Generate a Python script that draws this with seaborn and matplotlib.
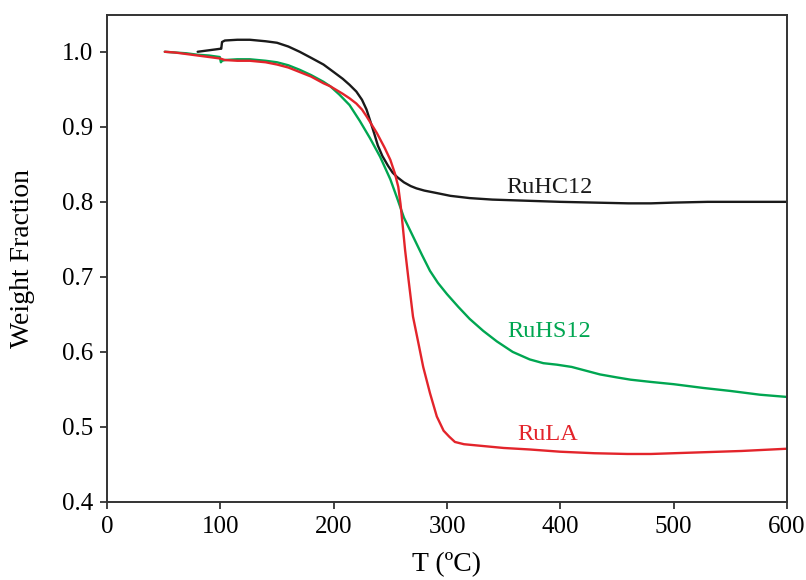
import numpy as np
import pandas as pd
import matplotlib
matplotlib.use("Agg")
import matplotlib.pyplot as plt
import seaborn as sns

# ---- data ----
hc12_T = [80, 90, 100, 100.8, 101.5, 104, 115, 126, 140, 150, 160, 170, 180, 191, 200, 208, 214,
          220, 225, 229, 232, 236, 239, 243, 248, 252, 256, 262, 268, 273, 280, 290, 303, 320,
          340, 360, 380, 400, 430, 460, 480, 500, 530, 560, 600]
hc12_w = [1.000, 1.002, 1.004, 1.004, 1.013, 1.015, 1.016, 1.016, 1.014, 1.012, 1.007, 1.000,
          0.992, 0.983, 0.973, 0.964, 0.956, 0.947, 0.936, 0.923, 0.909, 0.890, 0.875, 0.861,
          0.848, 0.839, 0.833, 0.826, 0.821, 0.818, 0.815, 0.812, 0.808, 0.805, 0.803, 0.802,
          0.801, 0.800, 0.799, 0.798, 0.798, 0.799, 0.800, 0.800, 0.800]

hs12_T = [51, 60, 70, 80, 90, 99.5, 100.5, 101.5, 104, 115, 126, 140, 150, 160, 170, 180, 191,
          197, 205, 214, 223, 232, 241, 250, 256, 262, 270, 278, 285, 292, 300, 310, 320, 332,
          344, 358, 373, 385, 397, 410, 420, 435, 450, 462, 480, 500, 526, 550, 576, 600]
hs12_w = [1.000, 0.999, 0.998, 0.996, 0.995, 0.993, 0.986, 0.988, 0.989, 0.990, 0.990, 0.988,
          0.986, 0.982, 0.976, 0.969, 0.960, 0.954, 0.943, 0.929, 0.908, 0.885, 0.860, 0.830,
          0.805, 0.779, 0.754, 0.729, 0.708, 0.692, 0.677, 0.660, 0.644, 0.628, 0.614, 0.600,
          0.590, 0.585, 0.583, 0.580, 0.576, 0.570, 0.566, 0.563, 0.560, 0.557, 0.552, 0.548,
          0.543, 0.540]

la_T = [51, 60, 70, 80, 90, 100, 104, 115, 126, 140, 150, 160, 170, 180, 191, 197, 208, 214,
        220, 225, 229, 238, 245, 250, 254, 257, 259, 261, 263, 266, 270, 275, 279, 285, 291,
        297, 302, 307, 315, 329, 350, 373, 400, 430, 459, 480, 520, 560, 600]
la_w = [1.000, 0.999, 0.997, 0.995, 0.993, 0.991, 0.989, 0.988, 0.988, 0.986, 0.983, 0.979,
        0.973, 0.967, 0.958, 0.954, 0.944, 0.938, 0.931, 0.923, 0.914, 0.892, 0.872, 0.856,
        0.838, 0.820, 0.797, 0.767, 0.736, 0.697, 0.647, 0.610, 0.580, 0.545, 0.514, 0.495,
        0.487, 0.480, 0.477, 0.475, 0.472, 0.470, 0.467, 0.465, 0.464, 0.464, 0.466, 0.468,
        0.471]

series_names = ["RuHC12", "RuHS12", "RuLA"]
series_colors = ["#1a1a1a", "#00a651", "#e3242b"]
label_pos = [(352, 0.812), (353, 0.620), (362, 0.4827)]

x_ticks = [0, 100, 200, 300, 400, 500, 600]
y_ticks = [0.4, 0.5, 0.6, 0.7, 0.8, 0.9, 1.0]

df = pd.concat([
    pd.DataFrame({"T": hc12_T, "w": hc12_w, "s": "RuHC12"}),
    pd.DataFrame({"T": hs12_T, "w": hs12_w, "s": "RuHS12"}),
    pd.DataFrame({"T": la_T, "w": la_w, "s": "RuLA"}),
], ignore_index=True)

sns.set_style("ticks")
plt.rcParams["font.family"] = ["Liberation Serif", "DejaVu Serif"]

fig = plt.figure(figsize=(8.06, 5.80), dpi=100)
ax = fig.add_axes([107 / 806, 78 / 580, 680 / 806, 487 / 580])

sns.lineplot(data=df, x="T", y="w", hue="s", hue_order=series_names,
             palette=dict(zip(series_names, series_colors)), sort=False,
             linewidth=1.7, legend=False, ax=ax, estimator=None)

for name, col, (tx, ty) in zip(series_names, series_colors, label_pos):
    ax.text(tx, ty, name, color=col, fontsize=17.5, va="baseline", ha="left")

ax.set_xlim(0, 600)
ax.set_ylim(0.4, 1.049)
ax.set_xticks(x_ticks)
ax.set_yticks(y_ticks)
ax.set_xticklabels([str(v) for v in x_ticks])
ax.set_yticklabels([f"{v:.1f}" for v in y_ticks])
ax.tick_params(axis="both", direction="out", length=5, width=1.2, labelsize=18,
               pad=5, colors="#222222", labelcolor="black")
for sp in ax.spines.values():
    sp.set_visible(True)
    sp.set_linewidth(1.4)
    sp.set_color("#333333")

ax.set_xlabel("T (ºC)", fontsize=20, labelpad=10, color="black")
ax.set_ylabel("Weight Fraction", fontsize=20, labelpad=19, color="black")

fig.savefig("out.png", dpi=100, facecolor="white")
